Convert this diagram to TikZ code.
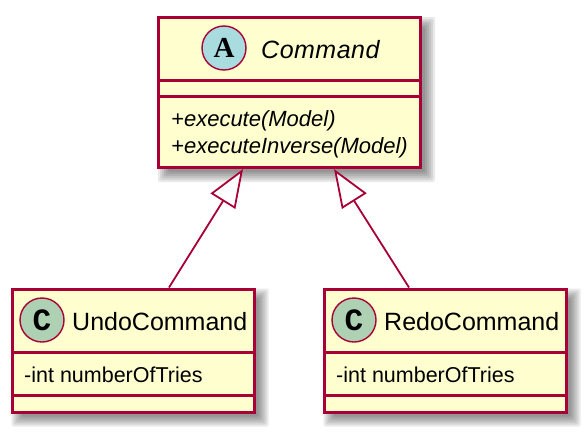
\documentclass[tikz,border=0pt]{standalone}
\usepackage{fontspec}
\setmainfont{Liberation Sans}
\newfontfamily\stereofont{Liberation Mono}
\newfontfamily\abstractfont{Liberation Serif}
\usetikzlibrary{arrows.meta,backgrounds}

\definecolor{umlline}{HTML}{A80036}
\definecolor{umlfill}{HTML}{FEFECE}
\definecolor{umlabstract}{HTML}{A9DCDF}
\definecolor{umlclass}{HTML}{ADD1B2}

\tikzset{
  classbox/.style={draw=umlline,line width=3pt,fill=umlfill,inner sep=0pt,minimum width=#1},
  classbox/.default=242pt,
  spot/.style={circle,draw=umlline,line width=1.4pt,minimum size=44pt,inner sep=0pt},
  spotletter/.style={font=\stereofont\bfseries\fontsize{31}{31}\selectfont,anchor=center,inner sep=0pt},
  titletext/.style={anchor=base west,inner sep=0pt,font=\fontsize{25}{25}\selectfont},
  membertext/.style={anchor=base west,inner sep=0pt,font=\fontsize{21.5}{26}\selectfont},
  extends/.style={draw=umlline,line width=1.8pt,-{Triangle[length=38pt,width=29pt,fill=white]}},
}

\newcommand{\classshadow}[1]{
  \foreach \b in {6,4,2,0,-2,-4}
    \fill[black,opacity=.085,rounded corners=2pt] ([shift={({7-\b},{7-\b})}]#1.north west) rectangle ([shift={({7+\b},{7+\b})}]#1.south east);
}

\begin{document}
\begin{tikzpicture}[x=1pt,y=-1pt]
  \useasboundingbox (0,0) rectangle (586,431);

  \node[classbox=262pt,minimum height=150pt] (command) at (289.5,92.5) {};
  \node[classbox,minimum height=123pt] (undo) at (133,350.5) {};
  \node[classbox,minimum height=123pt] (redo) at (445,350.5) {};

  \begin{scope}[on background layer]
    \classshadow{command}
    \classshadow{undo}
    \classshadow{redo}
  \end{scope}

  \draw[umlline,line width=3pt] (command.west |- 0,80) -- (command.east |- 0,80);
  \draw[umlline,line width=3pt] (command.west |- 0,96) -- (command.east |- 0,96);
  \draw[umlline,line width=3pt] (undo.west |- 0,352) -- (undo.east |- 0,352);
  \draw[umlline,line width=3pt] (undo.west |- 0,395) -- (undo.east |- 0,395);
  \draw[umlline,line width=3pt] (redo.west |- 0,352) -- (redo.east |- 0,352);
  \draw[umlline,line width=3pt] (redo.west |- 0,395) -- (redo.east |- 0,395);

  \node[spot,fill=umlabstract] (commandspot) at (224,48) {};
  \node[spotletter,font=\abstractfont\bfseries\fontsize{29}{29}\selectfont] at (commandspot) {A};
  \node[spot,fill=umlclass] (undospot) at (42,320) {};
  \node[spotletter] at (undospot) {C};
  \node[spot,fill=umlclass] (redospot) at (354,320) {};
  \node[spotletter] at (redospot) {C};

  \node[titletext] (commandtitle) at (261,58) {\addfontfeature{LetterSpace=2}\itshape Command};
  \node[titletext] (undotitle) at (72,330) {UndoCommand};
  \node[titletext] (redotitle) at (384,330) {RedoCommand};

  \node[membertext,font=\fontsize{22}{26}\selectfont] (execute) at (171,126) {\itshape +execute(Model)};
  \node[membertext,font=\fontsize{22}{26}\selectfont] (inverse) at (171,153) {\itshape +executeInverse(Model)};
  \node[membertext] (undotries) at (24,382) {-int numberOfTries};
  \node[membertext] (redotries) at (336,382) {-int numberOfTries};

  \draw[extends] ([xshift=36]undo.north) -- ([xshift=-46.5]command.south);
  \draw[extends] ([xshift=-36]redo.north) -- ([xshift=44.5]command.south);
\end{tikzpicture}
\end{document}
